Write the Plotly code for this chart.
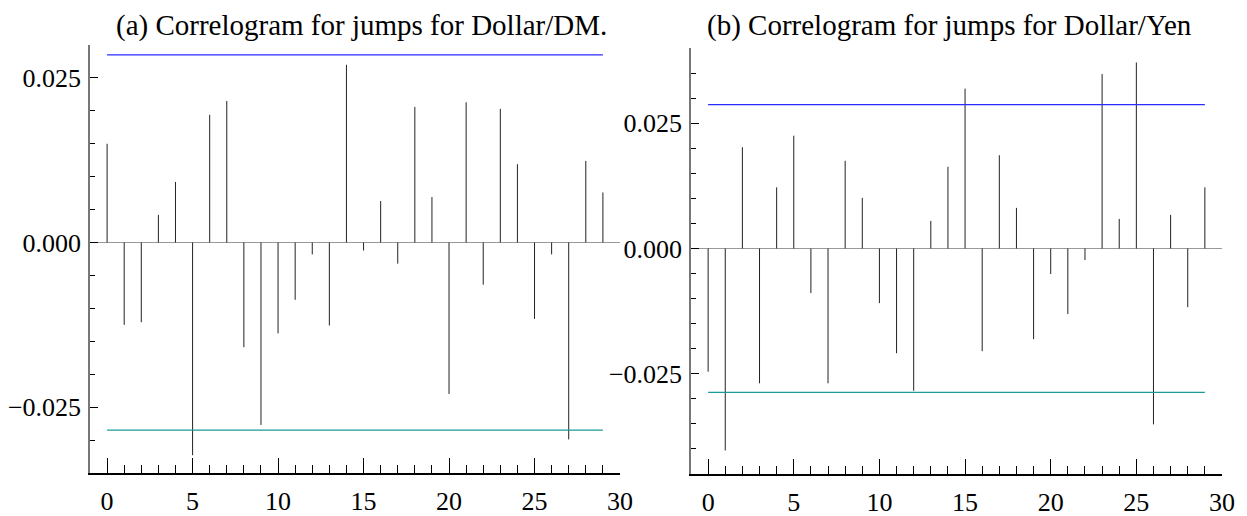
import plotly.graph_objects as go

lags = list(range(30))

acf_dm = [0.0150, -0.0125, -0.0121, 0.0042, 0.0092, -0.0323, 0.0194, 0.0215,
          -0.0159, -0.0277, -0.0138, -0.0087, -0.0018, -0.0126, 0.0270, -0.0012,
          0.0063, -0.0032, 0.0206, 0.0069, -0.0230, 0.0213, -0.0064, 0.0203,
          0.0119, -0.0116, -0.0018, -0.0299, 0.0124, 0.0076]

acf_yen = [-0.0246, -0.0403, 0.0202, -0.0269, 0.0122, 0.0225, -0.0089, -0.0269,
           0.0175, 0.0101, -0.0109, -0.0209, -0.0284, 0.0055, 0.0163, 0.0319,
           -0.0205, 0.0186, 0.0081, -0.0181, -0.0051, -0.0131, -0.0023, 0.0348,
           0.0059, 0.0371, -0.0351, 0.0067, -0.0117, 0.0122]

band_dm = 0.0285
band_yen = 0.0287

titles = ["(a) Correlogram for jumps for Dollar/DM.",
          "(b) Correlogram for jumps for Dollar/Yen"]
yranges = [[-0.035, 0.030], [-0.045, 0.040]]

FONT = "Liberation Serif, Times New Roman, serif"
W, H = 1247, 516
OFF = 8  # page body margin


def px_x(p):
    return (p - OFF) / W


def px_y(p):
    return 1 - (p - OFF) / H


def stems(x, y):
    xs, ys = [], []
    for a, b in zip(x, y):
        xs += [a, a, None]
        ys += [0, b, None]
    return xs, ys


fig = go.Figure()

panels = [(acf_dm, band_dm, "x", "y"), (acf_yen, band_yen, "x2", "y2")]
for vals, band, xa, ya in panels:
    sx, sy = stems(lags, vals)
    fig.add_trace(go.Scatter(x=sx, y=sy, mode="lines", xaxis=xa, yaxis=ya,
                             line=dict(color="#222222", width=1), hoverinfo="skip"))
    # confidence bands
    fig.add_trace(go.Scatter(x=[lags[0], lags[-1]], y=[band, band], mode="lines",
                             xaxis=xa, yaxis=ya, line=dict(color="#2b2bff", width=1.3)))
    fig.add_trace(go.Scatter(x=[lags[0], lags[-1]], y=[-band, -band], mode="lines",
                             xaxis=xa, yaxis=ya, line=dict(color="#1a9a9a", width=1.3)))

xcommon = dict(range=[-1, 30], tickvals=[0, 5, 10, 15, 20, 25, 30], ticks="inside",
               ticklen=15, tickcolor="black", showline=True, linecolor="black",
               linewidth=1.5, showgrid=False, zeroline=False, automargin=False,
               ticklabelstandoff=4,
               minor=dict(tick0=0, dtick=1, ticks="inside", ticklen=8, tickcolor="black"),
               tickfont=dict(family=FONT, size=26, color="black"))
ycommon = dict(tickvals=[-0.025, 0, 0.025], ticktext=["\u22120.025", "0.000", "0.025"],
               ticks="inside", ticklen=8, tickcolor="black", showline=True,
               linecolor="#777777", linewidth=1.5, showgrid=False, zeroline=True,
               zerolinecolor="#999999", zerolinewidth=1.2, ticklabelstandoff=2,
               automargin=False,
               minor=dict(tick0=0, dtick=0.005, ticks="inside", ticklen=5, tickcolor="black"),
               tickfont=dict(family=FONT, size=26, color="black"))

fig.update_layout(
    width=W, height=H,
    margin=dict(l=0, r=0, t=0, b=0),
    plot_bgcolor="white", paper_bgcolor="white",
    showlegend=False,
    xaxis=dict(xcommon, domain=[px_x(90), px_x(620)], anchor="y"),
    yaxis=dict(ycommon, domain=[px_y(473), px_y(45)], range=yranges[0], anchor="x"),
    xaxis2=dict(xcommon, domain=[px_x(691), px_x(1222)], anchor="y2"),
    yaxis2=dict(ycommon, domain=[px_y(474), px_y(48)], range=yranges[1], anchor="x2"),
)

for title, cx in zip(titles, [361, 949]):
    fig.add_annotation(text=title, x=px_x(cx), y=px_y(26), xref="paper", yref="paper",
                       xanchor="center", yanchor="middle", showarrow=False,
                       font=dict(family=FONT, size=29, color="black"))

fig.write_html("out.html")
